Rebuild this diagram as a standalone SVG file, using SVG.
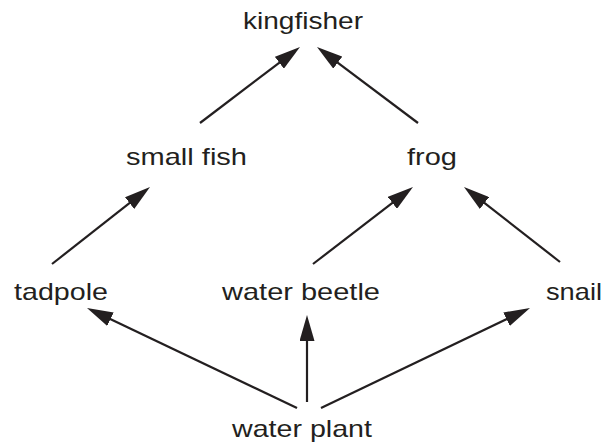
<svg xmlns="http://www.w3.org/2000/svg" width="608" height="446" viewBox="0 0 608 446">
<style>
text{font-family:"Liberation Sans",Arial,Helvetica,sans-serif;font-size:24px;fill:#231f20;text-anchor:middle}
.c line{stroke:#231f20;stroke-width:2.2;marker-end:url(#ah)}
</style>
<defs>
<marker id="ah" markerUnits="userSpaceOnUse" markerWidth="26" markerHeight="15" refX="16" refY="7.5" orient="auto" viewBox="0 0 26 15">
<path d="M0,0 L26,7.5 L0,15 z" fill="#231f20"/>
</marker>
</defs>
<rect width="608" height="446" fill="#fff"/>
<g id="kingfisher"><text x="303" y="29" textLength="120" lengthAdjust="spacingAndGlyphs">kingfisher</text></g>
<g id="smallfish"><text x="186.5" y="165" textLength="121" lengthAdjust="spacingAndGlyphs">small fish</text></g>
<g id="frog"><text x="432" y="165" textLength="50" lengthAdjust="spacingAndGlyphs">frog</text></g>
<g id="tadpole"><text x="61" y="300" textLength="94" lengthAdjust="spacingAndGlyphs">tadpole</text></g>
<g id="waterbeetle"><text x="301" y="300" textLength="158" lengthAdjust="spacingAndGlyphs">water beetle</text></g>
<g id="snail"><text x="574" y="300" textLength="56" lengthAdjust="spacingAndGlyphs">snail</text></g>
<g id="waterplant"><text x="302" y="437" textLength="140" lengthAdjust="spacingAndGlyphs">water plant</text></g>
<g id="connectors" class="c">
<line x1="200" y1="123" x2="292.04" y2="53.05"/>
<line x1="418" y1="123" x2="324.99" y2="53.01"/>
<line x1="52" y1="264" x2="142.14" y2="193.18"/>
<line x1="313" y1="264" x2="405.08" y2="193.1"/>
<line x1="560" y1="262" x2="471.88" y2="193.16"/>
<line x1="297" y1="408" x2="96.03" y2="312.3"/>
<line x1="307" y1="402" x2="307" y2="325"/>
<line x1="321" y1="408" x2="520.98" y2="312.32"/>
</g>
</svg>
